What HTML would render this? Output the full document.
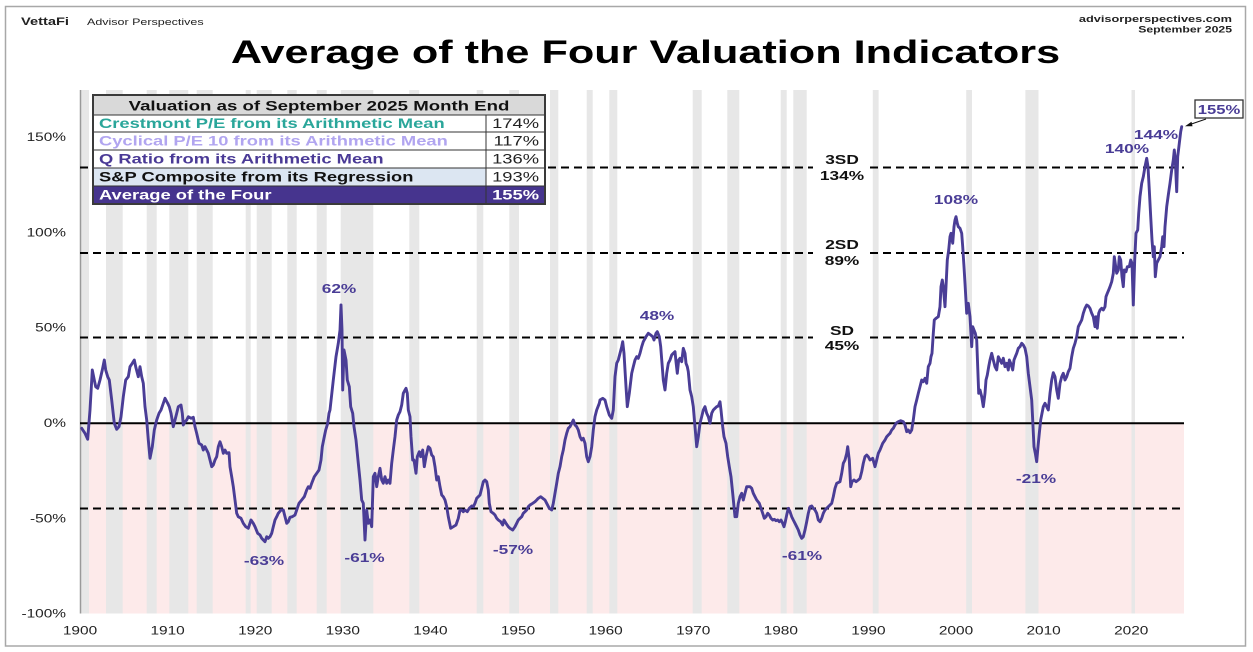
<!DOCTYPE html>
<html><head><meta charset="utf-8"><style>
html,body{margin:0;padding:0;background:#fff;}
svg{display:block;}
text{font-family:"Liberation Sans",Arial,sans-serif;}
</style></head><body>
<svg width="1253" height="652" viewBox="0 0 1253 652" xmlns="http://www.w3.org/2000/svg">
<rect x="0" y="0" width="1253" height="652" fill="#fff"/>
<rect x="5.5" y="6.5" width="1240" height="639.5" fill="none" stroke="#a8a8a8" stroke-width="1.5"/>

<!-- pink negative area -->
<rect x="80" y="423" width="1104" height="190.5" fill="#fdeaea"/>
<!-- recession bands -->
<g fill="#e7e7e7">
<rect x="81" y="90" width="8" height="523.5"/>
<rect x="106" y="90" width="16.7" height="523.5"/>
<rect x="146.7" y="90" width="10" height="523.5"/>
<rect x="169.3" y="90" width="19" height="523.5"/>
<rect x="196.7" y="90" width="16" height="523.5"/>
<rect x="245.7" y="90" width="5" height="523.5"/>
<rect x="256.7" y="90" width="15" height="523.5"/>
<rect x="287.3" y="90" width="9.4" height="523.5"/>
<rect x="316.7" y="90" width="10" height="523.5"/>
<rect x="340.7" y="90" width="32.6" height="523.5"/>
<rect x="409.3" y="90" width="10" height="523.5"/>
<rect x="476.7" y="90" width="6.6" height="523.5"/>
<rect x="509.3" y="90" width="9.7" height="523.5"/>
<rect x="550" y="90" width="8.3" height="523.5"/>
<rect x="586.7" y="90" width="6" height="523.5"/>
<rect x="609.3" y="90" width="8" height="523.5"/>
<rect x="692.7" y="90" width="9" height="523.5"/>
<rect x="727.3" y="90" width="12" height="523.5"/>
<rect x="780.7" y="90" width="6" height="523.5"/>
<rect x="793.3" y="90" width="13.4" height="523.5"/>
<rect x="872.8" y="90" width="5.8" height="523.5"/>
<rect x="966.2" y="90" width="5.8" height="523.5"/>
<rect x="1025.4" y="90" width="13.1" height="523.5"/>
<rect x="1131.5" y="90" width="3.5" height="523.5"/>
</g>

<!-- y axis line -->
<line x1="80.5" y1="90" x2="80.5" y2="613.5" stroke="#9a9a9a" stroke-width="1.5"/>

<!-- reference lines -->
<g stroke="#000" stroke-width="2" stroke-dasharray="8,5" fill="none">
<line x1="80" y1="167.5" x2="813" y2="167.5"/>
<line x1="870" y1="167.5" x2="1184" y2="167.5"/>
<line x1="80" y1="253" x2="813" y2="253"/>
<line x1="870" y1="253" x2="1184" y2="253"/>
<line x1="80" y1="337.5" x2="813" y2="337.5"/>
<line x1="870" y1="337.5" x2="1184" y2="337.5"/>
<line x1="80" y1="508.5" x2="1184" y2="508.5"/>
</g>
<line x1="80" y1="423.3" x2="1184" y2="423.3" stroke="#000" stroke-width="2"/>

<!-- data line -->
<polyline fill="none" stroke="#4a3d96" stroke-width="2.9" stroke-linejoin="round" stroke-linecap="round" points="
81.7,428.3 85,433.3 87.7,439.3 90,410 92.3,370 94.3,380 95.7,386.7 97.7,388.3 100,380 102.3,370 104.3,360 105.7,370 107.7,376.7 109.3,380 111.7,400 114.3,423.3 116.7,429.3 119,426.7 121,416.7 123.3,396.7 125.7,380 128.3,376.7 130,366.7 132.3,363.3 134.3,360 135.7,366.7 138.3,376.7 140,366.7 141.7,376.7 143.3,383.3 145,406.7 146.7,420 148.3,440 150,458.3 152.3,446.7 154.3,430 156.7,420 159,413.3 161,410 163.3,403.3 165,398.3 167.7,403.3 169.3,406.7 171,413.3 173.3,426.7 175,420 176.7,413.3 178.3,406.7 181,405 182.3,413.3 183.3,425 185,421.7 186.7,420 188.3,416.7 191,418.3 193.3,417.3 195,426.7 196.7,433.3 199,443.3 201.7,445 203.3,450 205,446.7 206.7,450 208.3,453.3 210,460 211.7,466.7 213.3,465 215,460 216.7,456.7 218.3,446.7 220,441.7 221.7,446.7 223.3,453.3 225,450 226.7,453.3 229,452.7 230,466.7 231.7,476.7 233.3,486.7 235,500 236.7,513.3 238.3,516.7 241,518.3 243.3,523.3 245.7,526.7 248.3,528.3 251,520 253.3,523.3 255,526.7 257.7,533.3 260,535 261.7,538.3 263.3,540 265,541.7 266.7,536.7 268.3,538.3 270,536.7 271.7,533.3 273.3,526.7 275,520 276.7,516.7 278.3,513.3 281,510 283.3,510 285,516.7 286.7,523.3 288.3,521.7 290,517.3 292.3,516.7 295,515 296.7,510 299,503.3 301.7,500 304.3,496.7 306.7,490 308.3,486.7 310,488.3 311.7,483.3 314.3,476.7 316.7,473.3 319,470 321,460 322.3,446.7 324.3,436.7 325.7,430 327.7,423.3 329,413.3 330,410 333.3,380 336,356.7 338.3,343.3 340,330 341,305 342,330 342.7,390 344,350 346,360 347.3,380 349.3,386.7 350.7,406.7 352.7,413.3 354,426.7 356,440 358.3,463.3 360,480 361.7,500 363.3,503.3 365,540 366.7,510 368.3,523.3 370,520 371.7,526.7 373.3,476.7 375,473.3 376.7,486.7 378.3,476.7 380,468.3 381.7,480 383.3,483.3 385,476.7 386.7,483.3 388.3,480 390,483.3 391.7,463.3 393.3,450 395,436.7 396.7,420 398.3,415 400,411.7 401.7,405 403.3,393.3 405,390 406,388.3 407.3,393.3 408.3,410 410,416.7 411,436.7 412.7,460 414,460 416,473.3 417.3,456.7 419.3,451.7 420.7,456.7 422.7,450 424.3,466.7 426,456.7 428.3,446.7 430,448.3 431.7,455 433.3,456.7 435,466.7 436.7,480 438.3,476.7 440,486.7 441.7,495 443.3,496.7 445,500 446.7,506.7 448.3,516.7 450.7,528.3 453.3,526.7 456,525 458.3,518.3 460,510 461.7,510 463.3,511.7 465,510 467.3,511.7 469.3,508.3 471.7,506 473.3,506.7 475,503.3 476.7,498.3 478.3,496.7 480,495 481.7,488.3 483.3,481.7 485,480 486.7,481.7 488.3,490 489.3,503.3 491,511.7 493.3,513.3 495,515 496.7,518.3 498.3,520 500.7,521.7 502.7,525 504,520 506,523.3 508.3,526.7 510,528.3 512.7,530 515,526.7 516.7,523.3 518.3,520 520,518.3 521.7,516.7 523.3,513.3 525,511.7 526.7,510 528.3,506.7 530,505 532.7,503.3 535,501.7 536.7,500 538.3,498.3 540.7,496.7 542.7,498.3 545,500 546.7,503.3 549.3,508.3 551.7,510 553.3,503.3 555,493.3 556.7,483.3 558.3,473.3 560,466.7 561.7,456.7 563.3,450 565,440 566.7,433.3 568.3,428.3 570,426.7 571.7,423.3 573.3,420 575,425 576.7,426.7 578.3,430 580,436.7 581.7,440 583.3,438.3 585,443.3 586.7,456.7 588.3,461.7 590,456.7 591.7,446.7 593.3,430 595,416.7 596.7,410 599.3,403.3 600,400 602.7,398.3 605,400 606.7,406.7 609.3,415 611.7,418.3 613.3,410 615,376.7 616.7,363.3 618.3,360 620,353.3 621.7,346.7 622.7,341.7 624,353.3 626,386.7 627.3,406.7 629.3,393.3 631.7,373.3 633.3,366.7 635,360 636.7,356.7 638.3,358.3 640,353.3 641.7,346.7 643.3,341.7 646,336.7 648.3,333.3 650.7,335 652.7,336.7 654,340 656,333.3 657.3,331.7 659.3,336.7 660.7,346.7 662,363.3 663.3,380 665,390 666.7,373.3 668.3,363.3 670,360 671.7,355 673.3,353.3 675,351.7 676,361.7 677.3,373.3 678.7,360 680,358.3 681.7,361.7 683.3,348.3 685,353.3 686,363.3 687.3,366.7 688.3,371.7 690,390 691.7,396.7 693.3,406.7 695,426.7 696.7,446.7 698.3,436.7 700,423.3 701.7,416.7 703.3,410 705,406.7 706.7,413.3 708.3,416.7 710,423.3 711.7,413.3 713.3,410 715,408.3 716.7,406.7 718.3,406 720,401.7 721,410 722.7,426.7 724,436.7 726,443.3 727.7,456.7 729.3,466.7 731,476.7 732.7,493.3 734,506.7 735,516.7 736.7,516.7 738.3,503.3 740,496.7 741.7,493.3 743.3,500 745,493.3 746.7,486.7 750,486.7 751.7,488.3 753.3,493.3 755,496.7 756.7,500 759.3,503.3 761,508.3 762.7,513.3 764.3,518.3 766,516.7 767.7,513.3 769.3,515 771,518.3 772.7,520 774.3,519.3 776,520.7 777.7,520 779.3,521.7 781,520 782.7,523.3 784,526.7 785.3,521.7 786.7,515 788.3,508.3 790,511.7 791.7,516.7 793.3,520 795,523.3 796.7,526.7 798.3,530 800,535 801.7,538.3 803.3,536.7 805,530 806.7,521.7 808.3,513.3 810,506.7 811.7,506 813.3,508.3 815,510 816.7,513.3 818.3,520 820,521.7 821.7,518.3 823.3,513.3 825,510 826.7,508.3 828.3,506.7 830,505 831.7,503.3 833.3,496.7 835,488.3 836.7,483.3 840,481.7 841.7,473.3 843.3,463.3 845,460 846.7,453.3 847.7,446.7 849.3,460 850.7,486.7 852,481.7 854,480 856,481.7 858.3,480 860,478.3 861.7,471.7 863.3,463.3 865,456.7 866.7,455 868.3,456.7 870,460 872.7,458.3 875,466.7 876.7,460 878.3,453.3 880,450 882.7,443.3 885,440 886.7,436.7 888.3,435 890,433.3 891.7,430 893.3,428.3 895,425 896.7,422.7 898.3,421.7 900.7,420.7 903.3,421.7 905,425 906.7,431.7 908.3,430 910,432.7 911.7,430 913.3,420 915,406.7 916.7,400 918.3,393.3 920,386.7 921.7,380 923.3,381.7 925,378.3 926.7,383.3 928.3,366.7 930,363.3 931,356.7 932,353.3 933.3,333.3 934.3,320 936,318.3 938.3,316.7 940,306.7 941,286.7 942.3,280 943.3,286.7 945,306.7 946,286.7 947.3,260 948.7,250 950,236.7 951,233.3 952.7,243.3 954,226.7 955,220 956,216.7 957.3,223.3 958.3,226.7 960,228.3 961.7,233.3 962.7,246.7 964,266.7 965,283.3 966.7,313.3 968.3,303.3 970,316.7 971.7,346.7 972.7,326.7 974,330 975.3,333.3 976.7,340 977.7,366.7 978.7,393.3 980,390 981.7,396.7 983.3,406.7 985,393.3 986,380 987.3,375 988.7,366.7 990,360 991.7,353.3 993.3,360 995,366.7 996.7,370 998.3,356.7 1000,360 1001.7,363.3 1003.3,358.3 1005,366.7 1006.7,363.3 1008.3,370 1009.3,360 1010.7,363.3 1012.7,370 1014,360 1015.3,356.7 1016.7,353.3 1018.3,348.3 1020,346.7 1021.7,343.3 1023.3,345 1025,348.3 1026.7,356.7 1028.3,373.3 1030,386.7 1031.7,400 1032.7,420 1034,446.7 1035.3,453.3 1036.7,461.7 1038,446.7 1039.3,433.3 1040.7,420 1042,413.3 1043.3,406.7 1045,403.3 1046.7,406.7 1048.3,410 1050,393.3 1051.7,380 1053.3,372.7 1055,376.7 1056.7,390 1058.3,398.3 1060,383.3 1061.7,376.7 1063.3,373.3 1065,380 1066.7,376.7 1068.3,371.7 1070,368.3 1071.7,356.7 1073.3,348.3 1075,343.3 1076.7,336.7 1078.3,326.7 1080,323.3 1081.7,320 1083.3,313.3 1085,308.3 1086.7,305 1088.3,306 1090,308.3 1091.7,313.3 1093.3,316.7 1095,326.7 1096,316.7 1097.3,328.3 1098.7,313.3 1100,310 1101.7,308.3 1103.3,310 1105,306.7 1106,296.7 1107.3,293.3 1108.7,290 1110,286.7 1111.7,281.7 1113.3,273.3 1114.3,256.7 1115.7,266.7 1116.7,273.3 1118.3,270 1119.3,256.7 1120.7,260 1122,276.7 1123.3,286.7 1124.3,270 1126,271.7 1127.3,266.7 1129.3,266.7 1130.7,260 1132,263.3 1133.3,305 1134.7,260 1136,233.3 1137.7,230 1138.7,213.3 1140,196.7 1141.7,183.3 1143.3,176.7 1145,166.7 1146.7,158.3 1148,166.7 1149.3,190 1150.7,216.7 1152,240 1153.3,256.7 1154.3,246.7 1155.3,276.7 1156.7,263.3 1158.3,260 1160,256.7 1161.7,246.7 1162.7,236.7 1164,246.7 1165,226.7 1166.7,206.7 1168.3,195 1170,183.3 1171.7,170 1173.3,160 1174.3,150 1175.3,160 1176.7,191.7 1177.7,156.7 1179.3,143.3 1180.7,131.7 1181.7,126.7"/>

<!-- SD labels -->
<g font-weight="bold" font-size="13" fill="#111" text-anchor="middle">
<text transform="translate(842,164) scale(1.33,1)">3SD</text>
<text transform="translate(842,180) scale(1.33,1)">134%</text>
<text transform="translate(842,249) scale(1.33,1)">2SD</text>
<text transform="translate(842,265) scale(1.33,1)">89%</text>
<text transform="translate(842,335) scale(1.33,1)">SD</text>
<text transform="translate(842,350) scale(1.33,1)">45%</text>
</g>

<!-- annotations -->
<g font-weight="bold" font-size="13" fill="#4a3d96" text-anchor="middle">
<text transform="translate(339,293) scale(1.33,1)">62%</text>
<text transform="translate(264,565) scale(1.33,1)">-63%</text>
<text transform="translate(364.5,562) scale(1.33,1)">-61%</text>
<text transform="translate(513,554) scale(1.33,1)">-57%</text>
<text transform="translate(657,320) scale(1.33,1)">48%</text>
<text transform="translate(802,560) scale(1.33,1)">-61%</text>
<text transform="translate(956,204) scale(1.33,1)">108%</text>
<text transform="translate(1036,483) scale(1.33,1)">-21%</text>
<text transform="translate(1127,153) scale(1.33,1)">140%</text>
<text transform="translate(1156,139) scale(1.33,1)">144%</text>
</g>

<!-- 155% callout -->
<rect x="1195" y="100" width="48" height="18" fill="#fff" stroke="#333" stroke-width="1.3"/>
<text transform="translate(1219,114) scale(1.33,1)" font-weight="bold" font-size="12.5" fill="#4a3d96" text-anchor="middle">155%</text>
<line x1="1206" y1="119" x2="1190" y2="124.5" stroke="#111" stroke-width="1"/>
<polygon points="1185,126.3 1191.5,121.8 1192.5,126.2" fill="#111"/>

<!-- table -->
<rect x="93" y="95" width="452" height="20" fill="#d9d9d9"/>
<rect x="93" y="115" width="452" height="53" fill="#fff"/>
<rect x="93" y="168" width="393" height="18" fill="#dce6f2"/>
<rect x="486" y="168" width="59" height="18" fill="#fff"/>
<rect x="93" y="186" width="452" height="18" fill="#46348e"/>
<g stroke="#333" stroke-width="1">
<line x1="93" y1="115" x2="545" y2="115"/>
<line x1="93" y1="132" x2="545" y2="132"/>
<line x1="93" y1="150" x2="545" y2="150"/>
<line x1="93" y1="168" x2="545" y2="168"/>
<line x1="93" y1="186" x2="545" y2="186"/>
<line x1="486" y1="115" x2="486" y2="204"/>
</g>
<rect x="93" y="95" width="452" height="109" fill="none" stroke="#3a3a3a" stroke-width="2"/>
<text transform="translate(319,110.5) scale(1.33,1)" font-weight="bold" font-size="14" fill="#111" text-anchor="middle">Valuation as of September 2025 Month End</text>
<g font-weight="bold" font-size="13.8">
<text transform="translate(99,128) scale(1.33,1)" fill="#2aa69a">Crestmont P/E from its Arithmetic Mean</text>
<text transform="translate(99,145.7) scale(1.33,1)" fill="#b1a5f0">Cyclical P/E 10 from its Arithmetic Mean</text>
<text transform="translate(99,163.5) scale(1.33,1)" fill="#4a3a96">Q Ratio from its Arithmetic Mean</text>
<text transform="translate(99,181.5) scale(1.33,1)" fill="#111">S&amp;P Composite from its Regression</text>
<text transform="translate(99,199.3) scale(1.33,1)" fill="#fff">Average of the Four</text>
</g>
<g font-size="13.8" text-anchor="end" fill="#222">
<text transform="translate(539,128) scale(1.33,1)">174%</text>
<text transform="translate(539,145.7) scale(1.33,1)">117%</text>
<text transform="translate(539,163.5) scale(1.33,1)">136%</text>
<text transform="translate(539,181.5) scale(1.33,1)">193%</text>
<text transform="translate(539,199.3) scale(1.33,1)" fill="#fff" font-weight="bold">155%</text>
</g>

<!-- y axis labels -->
<g font-size="11.6" fill="#222" text-anchor="end">
<text transform="translate(66,141) scale(1.33,1)">150%</text>
<text transform="translate(66,236.5) scale(1.33,1)">100%</text>
<text transform="translate(66,331.5) scale(1.33,1)">50%</text>
<text transform="translate(66,427) scale(1.33,1)">0%</text>
<text transform="translate(66,522.5) scale(1.33,1)">-50%</text>
<text transform="translate(66,617.5) scale(1.33,1)">-100%</text>
</g>
<!-- x axis labels -->
<g font-size="11.6" fill="#222" text-anchor="middle">
<text transform="translate(80,634.5) scale(1.33,1)">1900</text>
<text transform="translate(167.6,634.5) scale(1.33,1)">1910</text>
<text transform="translate(255.2,634.5) scale(1.33,1)">1920</text>
<text transform="translate(342.8,634.5) scale(1.33,1)">1930</text>
<text transform="translate(430.4,634.5) scale(1.33,1)">1940</text>
<text transform="translate(518,634.5) scale(1.33,1)">1950</text>
<text transform="translate(605.6,634.5) scale(1.33,1)">1960</text>
<text transform="translate(693.2,634.5) scale(1.33,1)">1970</text>
<text transform="translate(780.8,634.5) scale(1.33,1)">1980</text>
<text transform="translate(868.4,634.5) scale(1.33,1)">1990</text>
<text transform="translate(956,634.5) scale(1.33,1)">2000</text>
<text transform="translate(1043.6,634.5) scale(1.33,1)">2010</text>
<text transform="translate(1131.2,634.5) scale(1.33,1)">2020</text>
</g>

<!-- header -->
<text transform="translate(21,25) scale(1.33,1)" font-weight="bold" font-size="11" fill="#222">VettaFi</text>
<text transform="translate(87,25) scale(1.33,1)" font-size="9.4" fill="#222">Advisor Perspectives</text>
<text transform="translate(1232,22) scale(1.33,1)" font-weight="bold" font-size="9.6" fill="#222" text-anchor="end">advisorperspectives.com</text>
<text transform="translate(1232,32.5) scale(1.33,1)" font-weight="bold" font-size="9.2" fill="#222" text-anchor="end">September 2025</text>
<text transform="translate(645.5,63) scale(1.33,1)" font-weight="bold" font-size="32.5" fill="#000" text-anchor="middle">Average of the Four Valuation Indicators</text>
</svg>
</body></html>
